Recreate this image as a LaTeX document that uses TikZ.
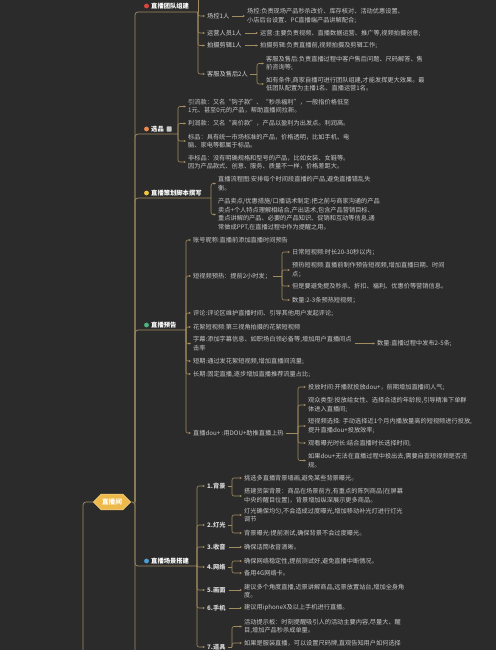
\documentclass[tikz,border=0pt]{standalone}
\usepackage{fontspec}
\setmainfont{Noto Sans CJK SC}
\usetikzlibrary{arrows.meta,shapes.misc}

\definecolor{bg}{HTML}{2B2B2B}
\definecolor{linec}{HTML}{A08C5F}
\definecolor{leafc}{HTML}{C8C8C8}
\definecolor{lvltwoc}{HTML}{D6D6D6}
\definecolor{rootc}{HTML}{EDB94A}
\definecolor{dotred}{HTML}{E0453C}
\definecolor{dotorange}{HTML}{EE8A4E}
\definecolor{dotyellow}{HTML}{F0C43E}
\definecolor{dotgreen}{HTML}{4DB37E}
\definecolor{dotblue}{HTML}{4B9FD6}

\tikzset{
    leaf/.style={anchor=west, inner sep=0pt, align=left, text=leafc,
        font=\fontsize{6.2}{8.4}\selectfont},
    lvltwo/.style={leaf, text=lvltwoc},
    lvltwob/.style={lvltwo, font=\fontsize{6.2}{8.4}\selectfont\bfseries},
    lvlone/.style={anchor=west, inner sep=0pt, text=white,
        font=\fontsize{6.3}{8}\selectfont\bfseries},
    rootbox/.style={chamfered rectangle, chamfered rectangle xsep=4pt,
        fill=rootc, draw=rootc!75!white, line width=0.6pt, text=white,
        minimum width=37pt, minimum height=15pt, inner sep=1pt,
        font=\fontsize{6.6}{8}\selectfont\bfseries},
    trunk/.style={draw=linec, line width=0.7pt, rounded corners=3pt},
    forkline/.style={draw=linec, line width=0.6pt},
    link/.style={draw=linec, line width=0.6pt, rounded corners=2pt,
        -{Stealth[length=2.4pt,width=2.2pt]}, shorten >=2pt},
}

\begin{document}
\begin{tikzpicture}[x=1pt,y=-1pt]
    \fill[bg] (0,0) rectangle (496,650);
    \useasboundingbox (0,0) rectangle (496,650);
    % Root
    \node[rootbox] (root) at (112,502) {直播间};
    \coordinate (hub) at (135,502);
    \coordinate (hubend) at (135,652);
    \coordinate (up) at (83,652);
    \draw[trunk] (root.west) -| (up);
    \draw[trunk] (root.east) -- (hub) -- (hubend);
    % Branch forks
    \coordinate (team-f) at (198,12);
    \coordinate (team-top) at (198,-1);
    \coordinate (xp-f) at (178,134);
    \coordinate (ch-f) at (211,198);
    \coordinate (yg-f) at (186,330);
    \coordinate (cj-f) at (197,566);
    \foreach \b in {team,xp,ch,yg,cj}
        \draw[trunk] (hub) |- (\b-f);
    % Branch labels
    \node[lvlone] (team) at (151,6) {直播团队组建};
    \fill[dotred] (146.5,6) circle (2.4pt);
    \node[lvlone] (xp) at (151,129) {选品};
    \fill[dotorange] (146.5,129) circle (2.4pt);
    \fill[leafc, rounded corners=0.5pt] (166.5,126.5) rectangle (171.5,131.5);
    \node[lvlone] (ch) at (151,193) {直播策划脚本撰写};
    \fill[dotyellow] (146.5,193) circle (2.4pt);
    \node[lvlone] (yg) at (151,325) {直播预告};
    \fill[dotgreen] (146.5,325) circle (2.4pt);
    \node[lvlone] (cj) at (151,561) {直播场景搭建};
    \fill[dotblue] (146.5,561) circle (2.4pt);

    % Team
    \node[lvltwo] (ck) at (207,16) {场控1人};
    \node[lvltwo] (yy) at (207,33) {运营人员1人};
    \node[lvltwo] (ps) at (207,45.5) {拍摄剪辑1人};
    \node[lvltwo] (kf) at (207,74) {客服及售后2人};
    \node[leaf] (ckt) at (247,16) {场控:负责现场产品秒杀改价、库存核对、活动优惠设置、\\小店后台设置、PC直播端产品讲解配合;};
    \node[leaf] (yyt) at (260,33) {运营:主要负责视频、直播数据运营、推广等,视频拍摄创意;};
    \node[leaf] (pst) at (260,45.5) {拍摄剪辑:负责直播前,视频拍摄及剪辑工作;};
    \coordinate (kf-f) at (257,74);
    \node[leaf] (kf1) at (266,63.5) {客服及售后:负责直播过程中客户售后问题、尺码解答、售\\前咨询等;};
    \node[leaf] (kf2) at (266,84) {如有条件,商家自播可进行团队组建,才能发挥更大效果。最\\低团队配置为主播1名、直播运营1名。};
    \draw[forkline] (team-f) -- (team-top);
    \foreach \c in {ck,yy,ps,kf}
        \draw[link] (team-f) |- (\c.west);
    \foreach \c in {kf1,kf2}
        \draw[link] (kf-f) |- (\c.west);

    % Choosing products
    \node[leaf] (xp1) at (188,106.5) {引流款：又名“钩子款”、“秒杀福利”，一般指价格低至\\1元、甚至0元的产品，帮助直播间拉新。};
    \node[leaf] (xp2) at (188,123.5) {利润款：又名“高价款”，产品以盈利为出发点。利润高。};
    \node[leaf] (xp3) at (188,141) {标品：具有统一市场标准的产品，价格透明，比如手机、电\\脑、家电等都属于标品。};
    \node[leaf] (xp4) at (188,162) {非标品：没有明确规格和型号的产品，比如女装、女鞋等。\\因为产品款式、创意、服务、质量不一样，价格差距大。};
    \foreach \c in {xp1,xp2,xp3,xp4}
        \draw[link] (xp-f) |- (\c.west);

    % Script
    \node[leaf] (ch1) at (218,183.5) {直播流程图:安排每个时间段直播的产品,避免直播错乱失\\衡。};
    \node[leaf] (ch2) at (218,214.5) {产品卖点/优惠措施/口播话术制定:把之前与商家沟通的产品\\卖点+个人特点理解相结合,产出话术,包含产品营销目标、\\重点讲解的产品、必要的产品知识、促销和互动等信息,通\\常做成PPT,在直播过程中作为提醒之用。};
    \foreach \c in {ch1,ch2}
        \draw[link] (ch-f) |- (\c.west);

    % Preview
    \node[leaf] (zh) at (193,240) {账号昵称:直播前添加直播时间预告};
    \node[leaf] (dsp) at (193,276) {短视频预热：提前2小时发；};
    \node[leaf] (pl) at (193,313) {评论:评论区维护直播时间、引导其他用户发起评论;};
    \node[leaf] (hx) at (193,327) {花絮短视频:第三视角拍摄的花絮短视频};
    \node[leaf] (zm) at (193,343.5) {字幕:添加字幕信息、如职场白领必备等,增加用户直播间点\\击率};
    \node[leaf] (dq) at (193,361) {短期:通过发花絮短视频,增加直播间流量;};
    \node[leaf] (cq) at (193,374) {长期:固定直播,逐步增加直播推荐流量占比;};
    \node[leaf] (dou) at (193,433) {直播dou+ :用DOU+助推直播上热};
    \foreach \c in {zh,dsp,pl,hx,zm,dq,cq,dou}
        \draw[link] (yg-f) |- (\c.west);
    \node[leaf] (zmt) at (377,343.5) {数量:直播过程中发布2-5条;};
    % Preview, short videos
    \coordinate (dsp-f) at (282,276);
    \node[leaf] (r1) at (292,252) {日常短视频:时长20-30秒以内；};
    \node[leaf] (r2) at (292,270) {预热短视频:直播前制作预告短视频,增加直播日期、时间\\点；};
    \node[leaf] (r3) at (292,286) {但是要避免提及秒杀、折扣、福利、优惠价等营销信息。};
    \node[leaf] (r4) at (292,300) {数量:2-3条预热短视频；};
    \foreach \c in {r1,r2,r3,r4}
        \draw[link] (dsp-f) |- (\c.west);
    % Preview, dou+
    \coordinate (dou-f) at (298,433);
    \node[leaf] (d1) at (308,387) {投放时间:开播就投放dou+，前期增加直播间人气;};
    \node[leaf] (d2) at (308,405) {观众类型:投放给女性、选择合适的年龄段,引导精准下单群\\体进入直播间;};
    \node[leaf] (d3) at (308,426) {短视频选择: 手动选择近1个月内播放量高的短视频进行投放,\\提升直播dou+投放效率;};
    \node[leaf] (d4) at (308,443) {观看曝光时长:结合直播时长选择时间;};
    \node[leaf] (d5) at (308,460.5) {如果dou+无法在直播过程中投出去,需要自查短视频是否违\\规。};
    \foreach \c in {d1,d2,d3,d4,d5}
        \draw[link] (dou-f) |- (\c.west);

    % Scene
    \node[lvltwob] (bj) at (207,486) {1.背景};
    \node[lvltwob] (dg) at (207,525) {2.灯光};
    \node[lvltwob] (sy) at (207,547) {3.收音};
    \node[lvltwob] (wl) at (207,567) {4.网络};
    \node[lvltwob] (hm) at (207,590) {5.画面};
    \node[lvltwob] (sj) at (207,608) {6.手机};
    \node[lvltwob] (dj) at (207,647) {7.道具};
    \foreach \c in {bj,dg,sy,wl,hm,sj,dj}
        \draw[link] (cj-f) |- (\c.west);
    \coordinate (bj-f) at (232,486);
    \coordinate (dg-f) at (232,525);
    \coordinate (wl-f) at (232,567);
    \coordinate (dj-f) at (232,647);
    \node[leaf] (bj1) at (244,478) {挑选多直播背景墙画,避免某些背景曝光。};
    \node[leaf] (bj2) at (244,496) {搭建货架背景：商品在场景前方,有重点的陈列商品(在屏幕\\中央的醒目位置)，背景增加纵深展示更多商品。};
    \node[leaf] (dg1) at (244,515) {灯光确保均匀,不会造成过度曝光,增加移动补光灯进行灯光\\调节};
    \node[leaf] (dg2) at (244,533) {背景曝光:提前测试,确保背景不会过度曝光。};
    \node[leaf] (syt) at (244,547) {确保话筒收音清晰。};
    \node[leaf] (wl1) at (244,561) {确保网络稳定性,提前测试好,避免直播中断情况。};
    \node[leaf] (wl2) at (244,573) {备用4G网络卡。};
    \node[leaf] (hmt) at (244,591) {建议多个角度直播,近景讲解商品,远景放置站台,增加全身角\\度。};
    \node[leaf] (sjt) at (244,608) {建议用iphoneX及以上手机进行直播。};
    \node[leaf] (dj1) at (244,626.5) {活动提示板：时刻提醒吸引人的活动主要内容,尽量大、醒\\目,增加产品秒杀成单量。};
    \node[leaf] (dj2) at (244,643) {如果是服装直播，可以设置尺码牌,直观告知用户如何选择};
    \foreach \a/\c in {bj/bj1,bj/bj2,dg/dg1,dg/dg2,wl/wl1,wl/wl2,dj/dj1,dj/dj2}
        \draw[link] (\a-f) |- (\c.west);

    % Parent to fork
    \foreach \a in {kf,dsp,dou,bj,dg,wl,dj}
        \draw[forkline] ([xshift=2pt]\a.east) -- (\a-f);
    % Single arrows
    \foreach \a/\b in {ck/ckt,yy/yyt,ps/pst,zm/zmt,sy/syt,hm/hmt,sj/sjt}
        \draw[link] ([xshift=3pt]\a.east) -- (\a.east -| \b.west);
\end{tikzpicture}
\end{document}
